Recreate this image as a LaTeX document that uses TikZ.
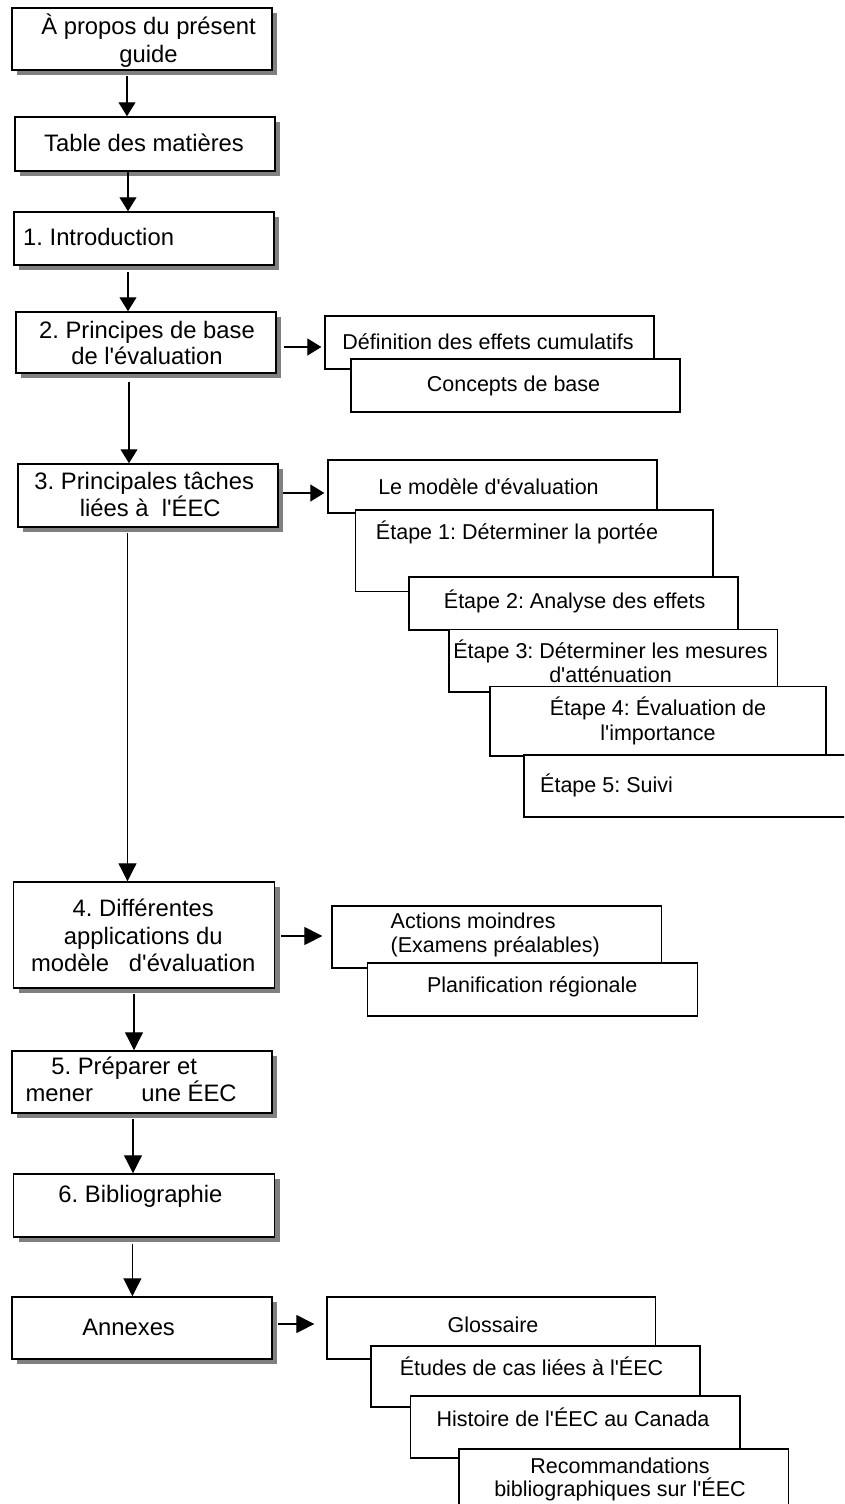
\documentclass[tikz,border=0pt]{standalone}
\usepackage{fontspec}
\setmainfont{Liberation Sans}[Ligatures=TeXOff]
\usetikzlibrary{arrows.meta,shadows}
\definecolor{shadowgray}{RGB}{128,128,128}
\frenchspacing
\newcommand\ctext[2]{\vtop{\baselineskip=#1\relax\lineskiplimit=-\maxdimen\lineskip=0pt\halign{\hfil##\hfil\cr#2\crcr}}}
\newcommand\ltext[2]{\vtop{\baselineskip=#1\relax\lineskiplimit=-\maxdimen\lineskip=0pt\halign{##\hfil\cr#2\crcr}}}
\begin{document}
\begin{tikzpicture}[x=1pt,y=-1pt,
  mainbox/.style={draw=black, line width=1.5pt, fill=white, inner sep=0pt,
    general shadow={fill=shadowgray, shadow xshift=5pt, shadow yshift=-5pt}},
  subbox/.style={draw=black, line width=1.3pt, fill=white, inner sep=0pt},
  maintext/.style={inner sep=0pt, anchor=base, font=\fontsize{23.8}{27}\selectfont\frenchspacing},
  subtext/.style={inner sep=0pt, anchor=base, font=\fontsize{21.5}{24.5}\selectfont\frenchspacing},
  arr/.style={line width=1.2pt, -{Triangle[length=14pt,width=17pt]}},
  bigarr/.style={line width=1.2pt, -{Triangle[length=18pt,width=18pt]}},
]
\useasboundingbox (0,0) rectangle (844,1504);
\clip (0,0) rectangle (844,1504);

% main column
\node[mainbox,minimum width=260pt,minimum height=62pt] (A) at (142,39) {};
\node[maintext] (tA) at (148.5,35) {\ctext{27.5pt}{À propos du présent\cr guide}};
\node[mainbox,minimum width=260pt,minimum height=54pt] (B) at (145,144) {};
\node[maintext] (tB) at (144,151.5) {Table des matières};
\node[mainbox,minimum width=260pt,minimum height=53pt] (C) at (144,238.5) {};
\node[maintext,anchor=base west] (tC) at (23,245) {1. Introduction};
\node[mainbox,minimum width=260pt,minimum height=61pt] (D) at (146,342.5) {};
\node[maintext] (tD) at (147,338.3) {\ctext{26pt}{2. Principes de base\cr de l'évaluation}};
\node[mainbox,minimum width=260pt,minimum height=63pt] (E) at (148,495.5) {};
\node[maintext] (tE) at (144.3,489.3) {\ctext{27.4pt}{3. Principales tâches\cr \hspace*{12pt}liées à\ \ l'ÉEC}};
\node[mainbox,minimum width=261pt,minimum height=106pt] (F) at (144,935) {};
\node[maintext] (tF) at (143.2,916.7) {\ctext{27.5pt}{4. Différentes\cr applications du\cr modèle\ \ \ d'évaluation}};
\node[mainbox,minimum width=260pt,minimum height=62pt] (G) at (142,1082) {};
\node[maintext,anchor=base west] (tG) at (25.3,1074) {\ltext{27.7pt}{\hspace*{25.9pt}5. Préparer et\cr mener\hspace{48.5pt}une ÉEC}};
\node[mainbox,minimum width=261pt,minimum height=63pt] (H) at (144,1205.5) {};
\node[maintext] (tH) at (140.5,1202.3) {6. Bibliographie};
\node[mainbox,minimum width=260pt,minimum height=62pt] (I) at (142,1328) {};
\node[maintext] (tI) at (128.6,1335) {Annexes};

% section 2
\node[subbox,minimum width=329pt,minimum height=53pt] (d1) at (489.5,342.5) {};
\node[subtext] (td1) at (488,349) {Définition des effets cumulatifs};
\node[subbox,minimum width=329pt,minimum height=53pt] (d2) at (515.5,385.5) {};
\node[subtext] (td2) at (513.5,391) {Concepts de base};

% section 3
\node[subbox,minimum width=329pt,minimum height=53pt] (e0) at (492.5,486.5) {};
\node[subtext] (te0) at (488.5,494.5) {Le modèle d'évaluation};
\node[subbox,minimum width=357.5pt,minimum height=81.5pt] (e1) at (534.25,550.75) {};
\node[subtext] (te1) at (517,539.7) {Étape 1: Déterminer la portée};
\node[subbox,minimum width=329pt,minimum height=53pt] (e2) at (573.5,603.5) {};
\node[subtext] (te2) at (574.6,608) {Étape 2: Analyse des effets};
\node[subbox,minimum width=328.5pt,minimum height=62.4pt] (e3) at (613.25,660.8) {};
\node[subtext] (te3) at (610.5,658) {\ctext{24.5pt}{Étape 3: Déterminer les mesures\cr d'atténuation}};
\node[subbox,minimum width=336pt,minimum height=69.5pt] (e4) at (658,721.25) {};
\node[subtext] (te4) at (658,715.4) {\ctext{24.8pt}{Étape 4: Évaluation de\cr l'importance}};
\node[subbox,minimum width=336pt,minimum height=62pt] (e5) at (692,786) {};
\node[subtext,anchor=base west] (te5) at (540,792) {Étape 5: Suivi};

% section 4
\node[subbox,minimum width=329.5pt,minimum height=62pt] (f1) at (496.75,937) {};
\node[subtext,anchor=base west] (tf1) at (390.5,928.3) {\ltext{24.4pt}{Actions moindres\cr (Examens préalables)}};
\node[subbox,minimum width=330pt,minimum height=53pt] (f2) at (532.5,989.5) {};
\node[subtext] (tf2) at (532.3,992.7) {Planification régionale};

% annexes
\node[subbox,minimum width=328.5pt,minimum height=62pt] (i1) at (491.25,1328) {};
\node[subtext] (ti1) at (493,1332.7) {Glossaire};
\node[subbox,minimum width=329pt,minimum height=61pt] (i2) at (535.5,1376.5) {};
\node[subtext] (ti2) at (531.5,1375.7) {Études de cas liées à l'ÉEC};
\node[subbox,minimum width=329.4pt,minimum height=62pt] (i3) at (575.3,1427) {};
\node[subtext] (ti3) at (573,1426.7) {Histoire de l'ÉEC au Canada};
\node[subbox,minimum width=329.5pt,minimum height=62pt] (i4) at (623.75,1480) {};
\node[subtext] (ti4) at (620,1473.3) {\ctext{23pt}{Recommandations\cr bibliographiques sur l'ÉEC}};

% vertical connectors
\draw[arr] ([xshift=-15pt,yshift=-5pt]A.south) -- ([xshift=-15pt]A.south |- B.north);
\draw[arr] ([xshift=-17pt,yshift=-0.7pt]B.south) -- ([xshift=-17pt]B.south |- C.north);
\draw[arr] ([xshift=-16pt,yshift=-6.5pt]C.south) -- ([xshift=-16pt]C.south |- D.north);
\draw[arr] ([xshift=-17pt,yshift=-8pt]D.south) -- ([xshift=-17pt]D.south |- E.north);
\draw[bigarr] ([xshift=-20.5pt,yshift=-5pt]E.south) -- ([xshift=-20.5pt]E.south |- F.north);
\draw[bigarr] ([xshift=-10pt,yshift=-5pt]F.south) -- ([xshift=-10pt]F.south |- G.north);
\draw[bigarr] ([xshift=-9pt,yshift=-5pt]G.south) -- ([xshift=-9pt]G.south |- H.north);
\draw[bigarr] ([xshift=-11.6pt,yshift=-6pt]H.south) -- ([xshift=-11.6pt]H.south |- I.north);

% horizontal connectors
\draw[arr,shorten >=3pt] ([xshift=7pt,yshift=-4.5pt]D.east) -- ([yshift=-4.5pt]D.east -| d1.west);
\draw[arr,shorten >=3pt] ([xshift=4pt,yshift=2.5pt]E.east) -- ([yshift=2.5pt]E.east -| e0.west);
\draw[bigarr,shorten >=9pt] ([xshift=5.5pt,yshift=-1pt]F.east) -- ([yshift=-1pt]F.east -| f1.west);
\draw[bigarr,shorten >=12pt] ([xshift=5pt,yshift=4pt]I.east) -- ([yshift=4pt]I.east -| i1.west);
\end{tikzpicture}
\end{document}
